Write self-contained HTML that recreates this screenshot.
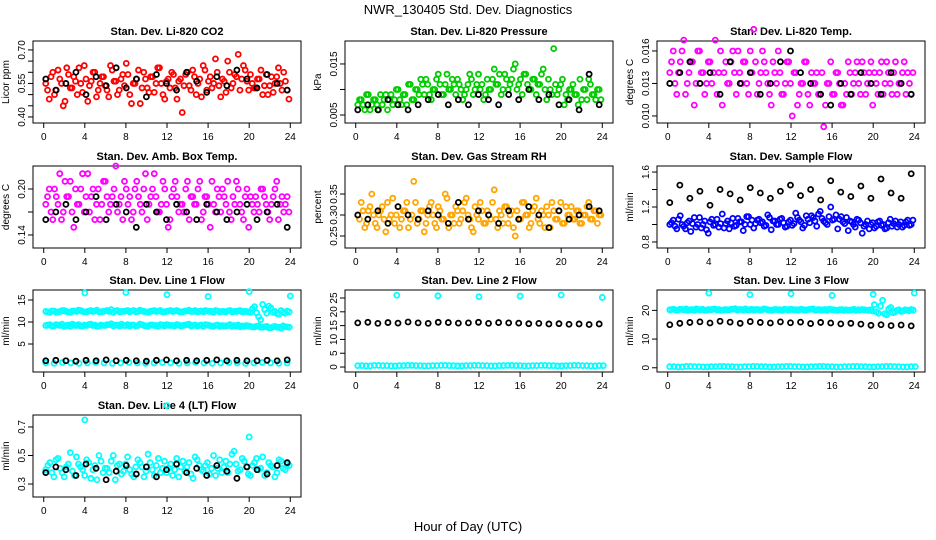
<!DOCTYPE html>
<html><head><meta charset="utf-8"><style>
body{margin:0;background:#fff;}
svg{display:block;font-family:"Liberation Sans",Arial,sans-serif;}
</style></head><body>
<svg id="c" width="936" height="540" viewBox="0 0 936 540">
<text x="468" y="14" text-anchor="middle" font-size="13">NWR_130405  Std. Dev. Diagnostics</text>
<text x="468" y="531" text-anchor="middle" font-size="13">Hour of Day (UTC)</text>
</svg>
<script>
const xTicks=[0,4,8,12,16,20,24];
const co2Red=[0.55,0.48,0.60,0.52,0.57,0.45,0.62,0.53,0.58,0.50,0.55,0.63,0.47,0.56,0.60,0.52,0.58,0.54,0.49,0.61,0.56,0.52,0.59,0.64,0.50,0.55,0.57,0.46,0.60,0.53,0.58,0.51,0.62,0.55,0.48,0.57,0.60,0.53,0.56,0.42,0.59,0.54,0.61,0.50,0.57,0.63,0.52,0.58,0.55,0.60,0.49,0.56,0.65,0.53,0.59,0.68,0.57,0.61,0.52,0.55,0.53,0.57,0.50,0.59,0.54,0.51,0.58,0.55,0.60,0.52];
const co2Red2=[0.52,0.58,0.50,0.61,0.55,0.47,0.59,0.53,0.56,0.62,0.51,0.57,0.54,0.60,0.49,0.55,0.58,0.52,0.63,0.56,0.50,0.57,0.54,0.59,0.46,0.55,0.61,0.53,0.57,0.51,0.58,0.55,0.62,0.50,0.56,0.53,0.59,0.48,0.57,0.54,0.60,0.52,0.58,0.55,0.49,0.61,0.56,0.53,0.66,0.54,0.57,0.51,0.60,0.55,0.58,0.52,0.63,0.56,0.59,0.53,0.57,0.61,0.54,0.50,0.58,0.55,0.62,0.52,0.56,0.48];
const co2Black=[0.57,0.52,0.55,0.60,0.50,0.58,0.54,0.62,0.53,0.57,0.49,0.59,0.55,0.52,0.60,0.56,0.51,0.58,0.54,0.61,0.57,0.53,0.59,0.55,0.52];
const presGreen=[0.007,0.008,0.006,0.009,0.007,0.008,0.006,0.007,0.009,0.008,0.007,0.010,0.008,0.009,0.007,0.011,0.008,0.010,0.012,0.009,0.011,0.008,0.010,0.013,0.009,0.011,0.010,0.012,0.009,0.011,0.008,0.010,0.013,0.009,0.011,0.010,0.008,0.012,0.010,0.014,0.011,0.009,0.013,0.010,0.012,0.015,0.011,0.009,0.013,0.010,0.012,0.009,0.011,0.014,0.008,0.010,0.018,0.009,0.011,0.007,0.008,0.010,0.009,0.007,0.008,0.010,0.012,0.009,0.008,0.010];
const presGreen2=[0.008,0.007,0.009,0.006,0.008,0.007,0.009,0.008,0.006,0.009,0.008,0.010,0.007,0.009,0.011,0.008,0.010,0.009,0.011,0.012,0.009,0.010,0.012,0.011,0.009,0.013,0.010,0.011,0.012,0.010,0.009,0.011,0.012,0.010,0.013,0.011,0.009,0.010,0.012,0.011,0.013,0.010,0.012,0.011,0.014,0.010,0.012,0.013,0.011,0.010,0.012,0.011,0.013,0.010,0.012,0.009,0.011,0.010,0.012,0.009,0.010,0.011,0.009,0.012,0.010,0.008,0.011,0.009,0.010,0.008];
const presBlack=[0.006,0.007,0.006,0.008,0.007,0.006,0.007,0.008,0.009,0.007,0.008,0.007,0.009,0.008,0.007,0.009,0.008,0.010,0.008,0.009,0.007,0.008,0.006,0.013,0.007];
const tempMag=[0.014,0.016,0.012,0.015,0.017,0.013,0.015,0.011,0.016,0.014,0.012,0.015,0.013,0.017,0.014,0.011,0.015,0.013,0.016,0.012,0.014,0.015,0.013,0.016,0.018,0.012,0.014,0.015,0.013,0.011,0.014,0.016,0.012,0.013,0.015,0.010,0.014,0.012,0.013,0.015,0.011,0.013,0.014,0.012,0.009,0.013,0.015,0.012,0.014,0.011,0.013,0.015,0.012,0.014,0.013,0.015,0.012,0.014,0.011,0.013,0.014,0.012,0.015,0.013,0.014,0.012,0.013,0.015,0.014,0.012];
const tempMag2=[0.015,0.013,0.014,0.016,0.012,0.014,0.015,0.013,0.016,0.014,0.013,0.015,0.014,0.012,0.016,0.014,0.013,0.015,0.014,0.016,0.013,0.015,0.012,0.014,0.015,0.013,0.016,0.014,0.012,0.015,0.013,0.014,0.012,0.015,0.013,0.014,0.011,0.013,0.015,0.012,0.014,0.013,0.012,0.014,0.011,0.013,0.012,0.014,0.013,0.011,0.012,0.014,0.013,0.015,0.012,0.014,0.013,0.015,0.014,0.012,0.015,0.013,0.014,0.012,0.015,0.013,0.014,0.012,0.013,0.014];
const tempBlack=[0.013,0.014,0.015,0.013,0.014,0.012,0.015,0.013,0.014,0.012,0.013,0.015,0.016,0.014,0.013,0.012,0.011,0.013,0.012,0.014,0.013,0.012,0.014,0.013,0.012];
const ambMag=[0.18,0.20,0.16,0.19,0.22,0.17,0.19,0.21,0.15,0.18,0.20,0.17,0.22,0.19,0.16,0.20,0.18,0.21,0.17,0.19,0.23,0.18,0.16,0.20,0.19,0.17,0.21,0.18,0.20,0.16,0.19,0.22,0.17,0.18,0.20,0.15,0.19,0.21,0.17,0.18,0.20,0.16,0.19,0.18,0.21,0.17,0.19,0.15,0.18,0.20,0.17,0.19,0.21,0.16,0.18,0.20,0.17,0.19,0.15,0.18,0.19,0.17,0.20,0.18,0.16,0.19,0.21,0.18,0.17,0.19];
const ambMag2=[0.19,0.17,0.20,0.18,0.16,0.21,0.19,0.17,0.20,0.18,0.22,0.19,0.17,0.20,0.18,0.16,0.21,0.19,0.18,0.20,0.17,0.19,0.21,0.18,0.16,0.20,0.19,0.17,0.22,0.18,0.20,0.19,0.17,0.21,0.18,0.16,0.20,0.19,0.18,0.17,0.21,0.19,0.18,0.20,0.16,0.19,0.18,0.21,0.17,0.19,0.20,0.18,0.17,0.19,0.21,0.18,0.16,0.20,0.19,0.17,0.18,0.20,0.19,0.17,0.18,0.20,0.16,0.19,0.18,0.17];
const ambBlack=[0.16,0.17,0.18,0.16,0.17,0.19,0.16,0.18,0.17,0.15,0.18,0.17,0.16,0.18,0.17,0.16,0.18,0.17,0.16,0.17,0.18,0.16,0.17,0.18,0.15];
const rhOrange=[0.30,0.33,0.27,0.31,0.35,0.28,0.30,0.32,0.26,0.29,0.34,0.30,0.27,0.31,0.33,0.29,0.38,0.28,0.31,0.26,0.30,0.33,0.28,0.32,0.29,0.35,0.27,0.30,0.32,0.28,0.31,0.34,0.29,0.26,0.30,0.33,0.28,0.31,0.29,0.36,0.27,0.30,0.32,0.28,0.31,0.25,0.29,0.33,0.30,0.27,0.31,0.34,0.28,0.30,0.32,0.27,0.31,0.29,0.33,0.28,0.30,0.32,0.29,0.31,0.28,0.30,0.33,0.29,0.31,0.30];
const rhOrange2=[0.29,0.31,0.28,0.32,0.30,0.27,0.31,0.29,0.33,0.30,0.28,0.32,0.29,0.31,0.27,0.30,0.33,0.29,0.31,0.28,0.32,0.30,0.27,0.31,0.29,0.34,0.30,0.28,0.31,0.29,0.33,0.30,0.27,0.32,0.29,0.31,0.28,0.30,0.33,0.29,0.31,0.28,0.32,0.30,0.27,0.31,0.29,0.33,0.30,0.28,0.32,0.29,0.31,0.27,0.30,0.33,0.29,0.31,0.28,0.32,0.30,0.29,0.31,0.28,0.30,0.32,0.29,0.31,0.28,0.30];
const rhBlack=[0.30,0.29,0.31,0.28,0.32,0.30,0.29,0.31,0.30,0.28,0.33,0.29,0.31,0.30,0.28,0.31,0.29,0.32,0.30,0.27,0.31,0.29,0.30,0.32,0.31];
const flowBlue=[1.00,1.05,0.95,1.10,0.98,1.02,0.92,1.08,1.00,0.96,1.04,0.90,1.06,1.00,0.97,1.12,1.01,0.95,1.07,0.99,1.03,0.93,1.09,1.00,0.96,1.05,1.02,0.98,1.11,0.94,1.04,1.00,1.07,0.97,1.03,0.99,1.13,1.05,0.96,1.10,1.02,1.08,0.98,1.15,1.04,1.00,1.20,1.06,0.95,1.09,1.01,0.93,1.03,0.97,1.05,0.90,1.00,0.95,1.02,0.98,1.04,1.00,0.96,1.06,1.01,0.97,1.03,0.99,1.05,1.00];
const flowBlue2=[1.02,0.98,1.06,1.00,0.95,1.04,1.01,0.97,1.08,1.00,0.94,1.03,0.99,1.06,1.01,0.96,1.04,1.02,0.98,1.07,1.03,1.00,1.09,1.05,1.01,1.06,1.03,0.99,1.08,1.04,1.00,1.06,1.02,0.98,1.05,1.01,1.08,1.03,0.99,1.06,1.10,1.04,1.12,1.07,1.02,1.09,1.05,1.11,1.06,1.03,1.08,1.04,1.00,1.06,1.02,0.98,1.04,1.00,0.96,1.03,0.99,0.95,1.02,0.98,1.04,1.00,0.97,1.03,0.99,1.05];
const flowBlack=[1.25,1.45,1.30,1.38,1.22,1.40,1.35,1.28,1.42,1.36,1.30,1.38,1.45,1.33,1.40,1.28,1.50,1.37,1.32,1.44,1.30,1.52,1.36,1.30,1.58];
const l1CyanHi=[12.4,12.2,12.5,12.3,12.6,12.4,12.2,12.5,12.7,12.4,12.3,12.6,12.5,12.3,12.4,12.6,12.8,12.5,12.3,12.4,12.6,12.5,12.3,12.7,12.4,12.2,12.5,12.4,12.6,12.3,12.5,12.4,12.6,12.3,12.5,12.7,12.4,12.3,12.5,12.6,12.4,12.2,12.5,12.4,12.3,12.6,12.4,12.5,12.3,12.4,12.2,13.5,11.2,14.0,12.0,13.2,12.4,11.8,12.2,12.5];
const l1CyanHi2=[12.3,12.5,12.2,12.4,12.6,12.3,12.5,12.4,12.6,12.3,12.5,12.4,12.7,12.3,12.5,12.4,12.2,12.6,12.4,12.5,12.3,12.6,12.4,12.5,12.3,12.4,12.6,12.5,12.3,12.4,12.6,12.5,12.4,12.3,12.5,12.4,12.6,12.4,12.3,12.5,12.4,12.6,12.3,12.4,12.5,12.3,12.4,12.6,12.4,12.3,13.0,12.1,10.5,12.8,13.6,12.2,11.9,12.6,12.0,12.3];
const l1CyanMid=[9.2,9.4,9.1,9.3,9.5,9.2,9.0,9.3,9.4,9.1,9.2,9.5,9.3,9.1,9.2,9.4,9.6,9.3,9.1,9.2,9.4,9.3,9.1,9.5,9.2,9.0,9.3,9.2,9.4,9.1,9.3,9.2,9.4,9.1,9.3,9.5,9.2,9.1,9.3,9.4,9.2,9.0,9.3,9.2,9.1,9.4,9.2,9.3,9.1,9.2,9.0,8.9,9.1,8.8,9.0,8.7,9.0,8.8,9.1,8.9];
const l1CyanMid2=[9.3,9.1,9.4,9.2,9.0,9.3,9.5,9.2,9.1,9.3,9.4,9.2,9.0,9.3,9.2,9.4,9.1,9.3,9.5,9.2,9.1,9.3,9.2,9.4,9.1,9.3,9.2,9.0,9.3,9.4,9.2,9.1,9.3,9.2,9.4,9.1,9.3,9.2,9.0,9.3,9.1,9.2,9.0,9.1,9.2,9.0,9.1,8.9,9.0,9.1,8.9,9.0,8.8,8.9,8.7,8.9,8.8,8.6,8.9,8.8];
const l1CyanLo=[0.7,0.6,0.8,0.7,0.6,0.7,0.8,0.7,0.6,0.7,0.8,0.7,0.6,0.7,0.8,0.7,0.6,0.7,0.8,0.7,0.6,0.7,0.8,0.7,0.6,0.7,0.8,0.7,0.6,0.7];
const l1Black=[1.2,1.3,1.2,1.1,1.3,1.2,1.4,1.2,1.3,1.2,1.1,1.3,1.4,1.2,1.3,1.2,1.3,1.4,1.2,1.3,1.2,1.2,1.3,1.2,1.4];
const outlierHours=[4,8,12,16,20,24];
const l1Out=[16.6,16.7,16.2,15.8,16.9,15.9];
const l2CyanLo=[0.5,0.4,0.6,0.5,0.4,0.5,0.6,0.5,0.4,0.5,0.6,0.5,0.4,0.5,0.6,0.5,0.4,0.5,0.6,0.5,0.4,0.5,0.6,0.5,0.4,0.5,0.6,0.5,0.4,0.5];
const l2Black=[16.0,16.2,15.8,16.1,15.9,16.3,16.0,15.8,16.2,16.1,15.9,16.0,16.2,15.8,16.1,16.0,15.9,15.7,15.8,15.6,15.7,15.5,15.6,15.4,15.6];
const l2Out=[26.0,25.8,25.5,25.7,26.1,25.2];
const l3CyanHi=[20.2,20.4,20.1,20.3,20.5,20.2,20.0,20.3,20.4,20.1,20.2,20.5,20.3,20.1,20.2,20.4,20.6,20.3,20.1,20.2,20.4,20.3,20.1,20.5,20.2,20.0,20.3,20.2,20.4,20.1,20.3,20.2,20.4,20.1,20.3,20.5,20.2,20.1,20.3,20.4,20.2,20.0,20.3,20.2,20.1,20.4,20.2,20.3,20.1,20.2,22.0,19.0,23.5,18.5,21.0,19.5,20.2,19.8,20.1,20.3];
const l3CyanHi2=[20.3,20.1,20.4,20.2,20.0,20.3,20.5,20.2,20.1,20.3,20.4,20.2,20.0,20.3,20.2,20.4,20.1,20.3,20.5,20.2,20.1,20.3,20.2,20.4,20.1,20.3,20.2,20.0,20.3,20.4,20.2,20.1,20.3,20.2,20.4,20.1,20.3,20.2,20.0,20.3,20.1,20.2,20.0,20.1,20.2,20.0,20.1,20.2,20.0,19.8,19.5,21.5,18.8,20.5,19.2,20.0,19.6,20.2,19.9,20.1];
const l3CyanLo=[0.4,0.3,0.5,0.4,0.3,0.4,0.5,0.4,0.3,0.4,0.5,0.4,0.3,0.4,0.5,0.4,0.3,0.4,0.5,0.4,0.3,0.4,0.5,0.4,0.3,0.4,0.5,0.4,0.3,0.4];
const l3Black=[15.0,15.5,15.8,16.0,15.6,16.2,15.9,15.5,16.1,15.8,15.6,16.0,15.7,15.9,15.4,15.8,15.6,15.3,15.5,15.2,14.8,15.0,14.7,14.9,14.6];
const l3Out=[26.0,25.5,25.8,25.2,25.6,26.0];
const l4Cyan=[0.40,0.45,0.35,0.48,0.38,0.42,0.52,0.36,0.44,0.40,0.47,0.34,0.43,0.50,0.38,0.41,0.46,0.33,0.44,0.39,0.49,0.37,0.42,0.45,0.35,0.51,0.40,0.43,0.38,0.46,0.41,0.36,0.48,0.42,0.39,0.45,0.34,0.47,0.40,0.43,0.37,0.50,0.41,0.38,0.46,0.44,0.53,0.39,0.48,0.42,0.36,0.45,0.40,0.49,0.38,0.43,0.35,0.47,0.41,0.44];
const l4Cyan2=[0.43,0.38,0.47,0.41,0.35,0.44,0.39,0.49,0.42,0.36,0.45,0.40,0.33,0.46,0.41,0.38,0.50,0.43,0.37,0.44,0.40,0.35,0.47,0.42,0.39,0.45,0.36,0.48,0.41,0.38,0.44,0.40,0.35,0.46,0.42,0.37,0.49,0.43,0.39,0.45,0.41,0.36,0.47,0.42,0.38,0.51,0.44,0.40,0.46,0.37,0.43,0.48,0.41,0.36,0.45,0.42,0.38,0.46,0.40,0.43];
const l4Black=[0.38,0.42,0.40,0.36,0.44,0.41,0.33,0.39,0.43,0.37,0.42,0.35,0.40,0.44,0.38,0.41,0.36,0.43,0.39,0.34,0.42,0.40,0.37,0.43,0.45];
const l4OutHours=[4,12,20];
const l4Out=[0.75,0.85,0.63];

const panels=[
 {name:'co2',title:'Stan. Dev. Li-820 CO2',ylab:'Licor ppm',col:0,row:0,yr:[0.373,0.74],ticks:[0.40,0.45,0.50,0.55,0.60,0.65,0.70],labs:['0.40','','','0.55','','','0.70'],
  series:[[co2Red,'#ff0000'],[co2Red2,'#ff0000',null,0.17],[co2Black,'#000']]},
 {name:'pressure',title:'Stan. Dev. Li-820 Pressure',ylab:'kPa',col:1,row:0,yr:[0.00343,0.0195],ticks:[0.005,0.010,0.015],labs:['0.005','','0.015'],
  series:[[presGreen,'#00cc00'],[presGreen2,'#00cc00',null,0.17],[presBlack,'#000']]},
 {name:'temp',title:'Stan. Dev. Li-820 Temp.',ylab:'degrees C',col:2,row:0,yr:[0.00935,0.01692],ticks:[0.010,0.013,0.016],labs:['0.010','0.013','0.016'],
  series:[[tempMag,'#ff00ff'],[tempMag2,'#ff00ff',null,0.17],[tempBlack,'#000']]},
 {name:'ambient',title:'Stan. Dev. Amb. Box Temp.',ylab:'degrees C',col:0,row:1,yr:[0.123,0.23],ticks:[0.14,0.17,0.20],labs:['0.14','','0.20'],
  series:[[ambMag,'#ff00ff'],[ambMag2,'#ff00ff',null,0.17],[ambBlack,'#000']]},
 {name:'rh',title:'Stan. Dev. Gas Stream RH',ylab:'percent',col:1,row:1,yr:[0.2214,0.4167],ticks:[0.25,0.30,0.35],labs:['0.25','0.30','0.35'],
  series:[[rhOrange,'#ffa500'],[rhOrange2,'#ffa500',null,0.17],[rhBlack,'#000']]},
 {name:'sample-flow',title:'Stan. Dev. Sample Flow',ylab:'ml/min',col:2,row:1,yr:[0.731,1.669],ticks:[0.8,1.0,1.2,1.4,1.6],labs:['0.8','','1.2','','1.6'],
  series:[[flowBlue,'#0000ff'],[flowBlue2,'#0000ff',null,0.17],[flowBlack,'#000']]},
 {name:'line1-flow',title:'Stan. Dev. Line 1 Flow',ylab:'ml/min',col:0,row:2,yr:[-1.36,17.27],ticks:[5,10,15],labs:['5','10','15'],
  series:[[l1CyanHi,'#00ffff'],[l1CyanHi2,'#00ffff',null,0.2],[l1CyanMid,'#00ffff'],[l1CyanMid2,'#00ffff',null,0.2],[l1CyanLo,'#00ffff'],[l1Black,'#000'],[l1Out,'#00ffff',outlierHours]]},
 {name:'line2-flow',title:'Stan. Dev. Line 2 Flow',ylab:'ml/min',col:1,row:2,yr:[-1.8,27.9],ticks:[0,5,10,15,20,25],labs:['0','5','10','15','20','25'],
  series:[[l2CyanLo,'#00ffff'],[l2CyanLo,'#00ffff',null,0.4],[l2Black,'#000'],[l2Out,'#00ffff',outlierHours]]},
 {name:'line3-flow',title:'Stan. Dev. Line 3 Flow',ylab:'ml/min',col:2,row:2,yr:[-1.47,27.1],ticks:[0,10,20],labs:['0','10','20'],
  series:[[l3CyanHi,'#00ffff'],[l3CyanHi2,'#00ffff',null,0.2],[l3CyanLo,'#00ffff'],[l3CyanLo,'#00ffff',null,0.4],[l3Black,'#000'],[l3Out,'#00ffff',outlierHours]]},
 {name:'line4-flow',title:'Stan. Dev. Line 4 (LT) Flow',ylab:'ml/min',col:0,row:3,yr:[0.209,0.784],ticks:[0.3,0.5,0.7],labs:['0.3','0.5','0.7'],
  series:[[l4Cyan,'#00ffff'],[l4Cyan2,'#00ffff',null,0.2],[l4Black,'#000'],[l4Out,'#00ffff',l4OutHours]]}
];
const NS='http://www.w3.org/2000/svg';
const svg=document.getElementById('c');
function mk(tag,attrs,parent){const e=document.createElementNS(NS,tag);for(const k in attrs)e.setAttribute(k,attrs[k]);(parent||svg).appendChild(e);return e;}
const colL=[33,345,657],rowT=[41,166,290,415],W=268,H=82;
panels.forEach(p=>{
 const L=colL[p.col],T=rowT[p.row];
 const g=mk('g',{});
 
 
 const xs=h=>L+W*0.04+h/24*W*0.92;
 const ys=v=>T+H-(v-p.yr[0])/(p.yr[1]-p.yr[0])*H;
 const box=mk('rect',{x:L,y:T,width:W,height:H,fill:'none',stroke:'#000','stroke-width':1},g);
 
 
 const t=mk('text',{x:L+W/2,y:T-6,'text-anchor':'middle','font-size':11,'font-weight':'bold'},g);
 t.textContent=p.title;
 
 
 const yl=mk('text',{x:0,y:0,'text-anchor':'middle','font-size':10,transform:`translate(${L-24},${T+H/2}) rotate(-90)`},g);
 yl.textContent=p.ylab;
 
 
 mk('line',{x1:xs(0),x2:xs(24),y1:T+H,y2:T+H,stroke:'#000'},g);
 xTicks.forEach(h=>{
  mk('line',{x1:xs(h),x2:xs(h),y1:T+H,y2:T+H+5,stroke:'#000'},g);
  const tx=mk('text',{x:xs(h),y:T+H+17,'text-anchor':'middle','font-size':10},g);
  tx.textContent=h;
  
  
 });
 mk('line',{x1:L,x2:L,y1:ys(p.ticks[0]),y2:ys(p.ticks[p.ticks.length-1]),stroke:'#000'},g);
 p.ticks.forEach((v,i)=>{
  mk('line',{x1:L-5,x2:L,y1:ys(v),y2:ys(v),stroke:'#000'},g);
  if(p.labs[i]){
   const ty=mk('text',{x:0,y:0,'text-anchor':'middle','font-size':10,transform:`translate(${L-8},${ys(v)}) rotate(-90)`},g);
   ty.textContent=p.labs[i];
   
   
  }
 });
 p.series.forEach(s=>{
  const vals=s[0],col=s[1],hrs=s[2],off=s[3]||0;
  vals.forEach((v,i)=>{
   const h=hrs?hrs[i]:(vals.length>1?0.2+off+i*(23.5/(vals.length-1)):12);
   const c=mk('circle',{cx:xs(h),cy:ys(v),r:2.5,fill:'none',stroke:col,'stroke-width':1.8},g);
   
   
  });
 });
});
</script>
</body></html>
